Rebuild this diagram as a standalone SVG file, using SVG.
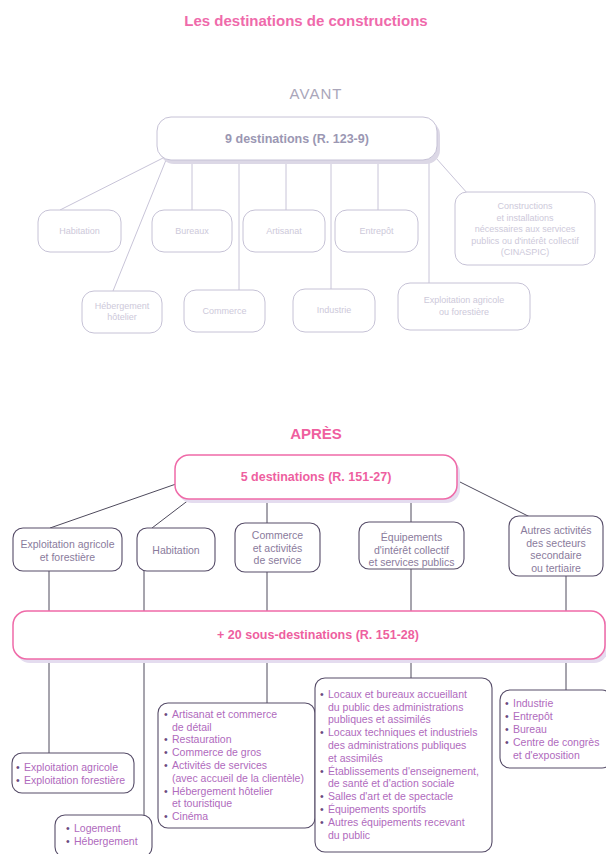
<svg xmlns="http://www.w3.org/2000/svg" width="606" height="854" viewBox="0 0 606 854">
<style>
text{font-family:"Liberation Sans",Arial,sans-serif}
.title{font-size:15px;font-weight:bold;fill:#ef6aab;text-anchor:middle}
.avant{font-size:15px;fill:#aaa6ba;letter-spacing:1px;text-anchor:middle}
.apres{font-size:15px;font-weight:bold;fill:#ef5f9f;text-anchor:middle}
.abox{fill:#fff;stroke:#c6c2d6;stroke-width:1}
.ashadow{fill:#dcd8e6}
.atxt{font-size:9px;fill:#cdc9da;text-anchor:middle}
.amain{font-size:12.5px;font-weight:bold;fill:#9b97b3;text-anchor:middle}
.pbox{fill:#fff;stroke:#ef6aa8;stroke-width:1.5}
.shadow{fill:#e4dcef}
.ptxt{font-size:12.5px;font-weight:bold;fill:#ee5f9f;text-anchor:middle}
.box{fill:#fff;stroke:#564c68;stroke-width:1.1}
.ltxt{font-size:10.5px;fill:#8a7b9c;text-anchor:middle}
.list{font-size:10.5px;fill:#b06abd}
.b{font-size:10.5px;fill:#6c4a80}
.c{stroke:#4e4a5c;stroke-width:1;fill:none}
.ac{stroke:#c8c4d8;stroke-width:1;fill:none}
</style>

<text class="title" x="306" y="26">Les destinations de constructions</text>
<text class="avant" x="316" y="99">AVANT</text>
<text class="apres" x="316" y="439">APRÈS</text>

<g id="connectors">
  <line class="ac" x1="163" y1="158" x2="60" y2="210"/>
  <line class="ac" x1="166" y1="160" x2="113" y2="291"/>
  <line class="ac" x1="192" y1="160" x2="192" y2="210"/>
  <line class="ac" x1="239" y1="160" x2="239" y2="290"/>
  <line class="ac" x1="286" y1="160" x2="286" y2="210"/>
  <line class="ac" x1="331" y1="160" x2="331" y2="289"/>
  <line class="ac" x1="378" y1="160" x2="378" y2="210"/>
  <line class="ac" x1="429" y1="160" x2="429" y2="283"/>
  <line class="ac" x1="436" y1="158" x2="468" y2="194"/>

  <line class="c" x1="176" y1="484" x2="50" y2="528"/>
  <line class="c" x1="190" y1="499" x2="152" y2="528"/>
  <line class="c" x1="267" y1="500" x2="267" y2="523"/>
  <line class="c" x1="411" y1="499" x2="411" y2="522"/>
  <line class="c" x1="456" y1="480" x2="530" y2="517"/>
  <line class="c" x1="49" y1="571" x2="49" y2="612"/>
  <line class="c" x1="144" y1="571" x2="144" y2="612"/>
  <line class="c" x1="267" y1="572" x2="267" y2="612"/>
  <line class="c" x1="411" y1="569" x2="411" y2="612"/>
  <line class="c" x1="566" y1="576" x2="566" y2="612"/>
  <line class="c" x1="49" y1="660" x2="49" y2="753"/>
  <line class="c" x1="144" y1="660" x2="144" y2="815"/>
  <line class="c" x1="267" y1="660" x2="267" y2="703"/>
  <line class="c" x1="411" y1="660" x2="411" y2="678"/>
  <line class="c" x1="566" y1="660" x2="566" y2="690"/>
</g>

<g id="avant-main">
  <rect class="ashadow" x="160" y="121" width="280" height="43" rx="14"/>
  <rect class="abox" x="157" y="117" width="280" height="43" rx="14"/>
  <text class="amain" x="297" y="143">9 destinations (R. 123-9)</text>
</g>
<g id="a-habitation">
  <rect class="abox" x="38" y="210" width="83" height="42" rx="12"/>
  <text class="atxt" x="79.5" y="234">Habitation</text>
</g>
<g id="a-bureaux">
  <rect class="abox" x="152" y="210" width="80" height="42" rx="12"/>
  <text class="atxt" x="192" y="234">Bureaux</text>
</g>
<g id="a-artisanat">
  <rect class="abox" x="243" y="210" width="82" height="42" rx="12"/>
  <text class="atxt" x="284" y="234">Artisanat</text>
</g>
<g id="a-entrepot">
  <rect class="abox" x="335" y="210" width="83" height="42" rx="12"/>
  <text class="atxt" x="376.5" y="234">Entrepôt</text>
</g>
<g id="a-cinaspic">
  <rect class="abox" x="455" y="192" width="140" height="73" rx="12"/>
  <text class="atxt" x="525" y="209">Constructions</text>
  <text class="atxt" x="525" y="220.5">et installations</text>
  <text class="atxt" x="525" y="232">nécessaires aux services</text>
  <text class="atxt" x="525" y="243.5">publics ou d'intérêt collectif</text>
  <text class="atxt" x="525" y="255">(CINASPIC)</text>
</g>
<g id="a-hebergement">
  <rect class="abox" x="82" y="291" width="80" height="42" rx="12"/>
  <text class="atxt" x="122" y="309">Hébergement</text>
  <text class="atxt" x="122" y="320">hôtelier</text>
</g>
<g id="a-commerce">
  <rect class="abox" x="184" y="290" width="81" height="42" rx="12"/>
  <text class="atxt" x="224.5" y="314">Commerce</text>
</g>
<g id="a-industrie">
  <rect class="abox" x="293" y="289" width="82" height="43" rx="12"/>
  <text class="atxt" x="334" y="313">Industrie</text>
</g>
<g id="a-exploitation">
  <rect class="abox" x="398" y="283" width="132" height="47" rx="12"/>
  <text class="atxt" x="464" y="303">Exploitation agricole</text>
  <text class="atxt" x="464" y="315">ou forestière</text>
</g>

<g id="p-main">
  <rect class="shadow" x="178" y="459" width="282" height="44" rx="14"/>
  <rect class="pbox" x="175" y="455" width="282" height="44" rx="14"/>
  <text class="ptxt" x="316" y="481">5 destinations (R. 151-27)</text>
</g>
<g id="p-exploitation">
  <rect class="box" x="13" y="528" width="109" height="43" rx="10"/>
  <text class="ltxt" x="67.5" y="548">Exploitation agricole</text>
  <text class="ltxt" x="67.5" y="561">et forestière</text>
</g>
<g id="p-habitation">
  <rect class="box" x="137" y="528" width="78" height="43" rx="10"/>
  <text class="ltxt" x="176" y="553.5">Habitation</text>
</g>
<g id="p-commerce">
  <rect class="box" x="235" y="523" width="85" height="49" rx="10"/>
  <text class="ltxt" x="277.5" y="539">Commerce</text>
  <text class="ltxt" x="277.5" y="551.5">et activités</text>
  <text class="ltxt" x="277.5" y="564">de service</text>
</g>
<g id="p-equipements">
  <rect class="box" x="359" y="522" width="105" height="47" rx="10"/>
  <text class="ltxt" x="411.5" y="541">Équipements</text>
  <text class="ltxt" x="411.5" y="553.5">d'intérêt collectif</text>
  <text class="ltxt" x="411.5" y="566">et services publics</text>
</g>
<g id="p-autres">
  <rect class="box" x="509" y="516" width="94" height="60" rx="10"/>
  <text class="ltxt" x="556" y="534">Autres activités</text>
  <text class="ltxt" x="556" y="546.5">des secteurs</text>
  <text class="ltxt" x="556" y="559">secondaire</text>
  <text class="ltxt" x="556" y="571.5">ou tertiaire</text>
</g>

<g id="p-sous">
  <rect class="shadow" x="16" y="615" width="592" height="48" rx="14"/>
  <rect class="pbox" x="13" y="611" width="592" height="48" rx="14"/>
  <text class="ptxt" x="318" y="639">+ 20 sous-destinations (R. 151-28)</text>
</g>

<g id="s-exploitation">
  <rect class="box" x="12" y="753" width="122" height="40" rx="10"/>
  <text class="b" x="16" y="770.5">•</text><text class="list" x="24" y="770.5">Exploitation agricole</text>
  <text class="b" x="16" y="783.5">•</text><text class="list" x="24" y="783.5">Exploitation forestière</text>
</g>
<g id="s-habitation">
  <rect class="box" x="55" y="815" width="97" height="42" rx="10"/>
  <text class="b" x="66" y="832">•</text><text class="list" x="74" y="832">Logement</text>
  <text class="b" x="66" y="845">•</text><text class="list" x="74" y="845">Hébergement</text>
</g>
<g id="s-commerce">
  <rect class="box" x="158" y="703" width="157" height="125" rx="10"/>
  <text class="b" x="164" y="717.7">•</text><text class="list" x="172" y="717.7">Artisanat et commerce</text>
  <text class="list" x="172" y="730.5">de détail</text>
  <text class="b" x="164" y="743.3">•</text><text class="list" x="172" y="743.3">Restauration</text>
  <text class="b" x="164" y="756.1">•</text><text class="list" x="172" y="756.1">Commerce de gros</text>
  <text class="b" x="164" y="768.9">•</text><text class="list" x="172" y="768.9">Activités de services</text>
  <text class="list" x="172" y="781.7">(avec accueil de la clientèle)</text>
  <text class="b" x="164" y="794.5">•</text><text class="list" x="172" y="794.5">Hébergement hôtelier</text>
  <text class="list" x="172" y="807.3">et touristique</text>
  <text class="b" x="164" y="820.1">•</text><text class="list" x="172" y="820.1">Cinéma</text>
</g>
<g id="s-equipements">
  <rect class="box" x="315" y="678" width="177" height="174" rx="10"/>
  <text class="b" x="320" y="697.7">•</text><text class="list" x="328" y="697.7">Locaux et bureaux accueillant</text>
  <text class="list" x="328" y="710.5">du public des administrations</text>
  <text class="list" x="328" y="723.3">publiques et assimilés</text>
  <text class="b" x="320" y="736.1">•</text><text class="list" x="328" y="736.1">Locaux techniques et industriels</text>
  <text class="list" x="328" y="748.9">des administrations publiques</text>
  <text class="list" x="328" y="761.7">et assimilés</text>
  <text class="b" x="320" y="774.5">•</text><text class="list" x="328" y="774.5">Établissements d'enseignement,</text>
  <text class="list" x="328" y="787.3">de santé et d'action sociale</text>
  <text class="b" x="320" y="800.1">•</text><text class="list" x="328" y="800.1">Salles d'art et de spectacle</text>
  <text class="b" x="320" y="812.9">•</text><text class="list" x="328" y="812.9">Équipements sportifs</text>
  <text class="b" x="320" y="825.7">•</text><text class="list" x="328" y="825.7">Autres équipements recevant</text>
  <text class="list" x="328" y="838.5">du public</text>
</g>
<g id="s-autres">
  <rect class="box" x="500" y="690" width="112" height="78" rx="10"/>
  <text class="b" x="505" y="706.7">•</text><text class="list" x="513" y="706.7">Industrie</text>
  <text class="b" x="505" y="719.7">•</text><text class="list" x="513" y="719.7">Entrepôt</text>
  <text class="b" x="505" y="732.7">•</text><text class="list" x="513" y="732.7">Bureau</text>
  <text class="b" x="505" y="745.7">•</text><text class="list" x="513" y="745.7">Centre de congrès</text>
  <text class="list" x="513" y="758.7">et d'exposition</text>
</g>
</svg>
